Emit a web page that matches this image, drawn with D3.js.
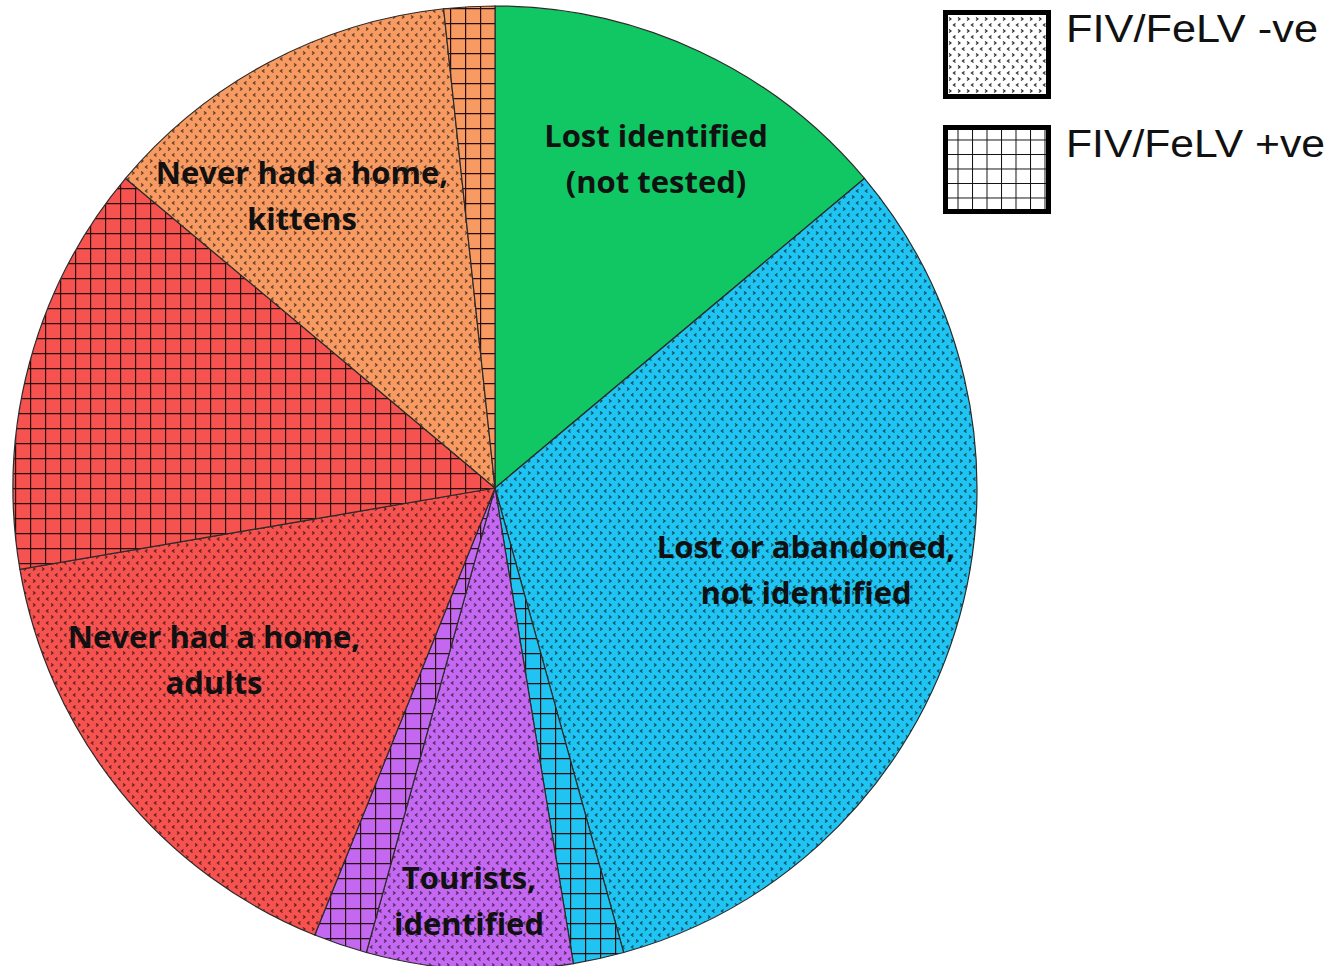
<!DOCTYPE html>
<html>
<head>
<meta charset="utf-8">
<script src="https://cdnjs.cloudflare.com/ajax/libs/d3/7.8.5/d3.min.js"></script>
<style>
  body { margin: 0; background: #fff; }
  svg { display: block; }
</style>
</head>
<body>
<div id="chart"></div>
<script>
// slices, clockwise from 12 o'clock (share of cats, %)
var groups = ["Lost identified", "Lost or abandoned", "Lost or abandoned", "Tourists", "Tourists",
              "Never had a home, adults", "Never had a home, adults", "Never had a home, kittens", "Never had a home, kittens"];
var testResult = ["none", "neg", "pos", "neg", "pos", "neg", "pos", "neg", "pos"];
var shares = [13.9, 31.8, 1.7, 6.9, 1.8, 16.2, 13.8, 12.2, 1.7];
var groupNames = ["Lost identified", "Lost or abandoned", "Tourists", "Never had a home, adults", "Never had a home, kittens"];
var groupColors = ["#10c763", "#1fc4f2", "#c468f2", "#f6524f", "#f89b62"];
var labelLines = [
  ["Lost identified", "(not tested)"],
  ["Lost or abandoned,", "not identified"],
  ["Tourists,", "identified"],
  ["Never had a home,", "adults"],
  ["Never had a home,", "kittens"]
];
var legendNames = ["FIV/FeLV -ve", "FIV/FeLV +ve"];

var width = 1343, height = 966;
var cx = 495, cy = 488, radius = 482;
// label anchors (first line baseline) in px
var labelPos = [[656, 147], [806, 558], [469, 889], [214, 648], [302, 184]];

var svg = d3.select("#chart").append("svg")
    .attr("width", width)
    .attr("height", height);

var defs = svg.append("defs");

var color = d3.scaleOrdinal().domain(groupNames).range(groupColors);

// "dotted" pattern: small < and > chevrons
function dotPattern(id, bg, ink) {
    var p = defs.append("pattern")
        .attr("id", id)
        .attr("patternUnits", "userSpaceOnUse")
        .attr("width", 9)
        .attr("height", 12);
    p.append("rect").attr("width", 9).attr("height", 12).attr("fill", bg);
    p.append("path")
        .attr("d", "M3.5,1.5 L1.5,3 L3.5,4.5 M6,7.5 L8,9 L6,10.5")
        .attr("fill", "none")
        .attr("stroke", ink)
        .attr("stroke-width", 1.3);
}

// grid pattern
function gridPattern(id, bg, ink, size, lw) {
    var p = defs.append("pattern")
        .attr("id", id)
        .attr("patternUnits", "userSpaceOnUse")
        .attr("width", size)
        .attr("height", size);
    p.append("rect").attr("width", size).attr("height", size).attr("fill", bg);
    p.append("path")
        .attr("d", "M0,0 L" + size + ",0 M0,0 L0," + size)
        .attr("fill", "none")
        .attr("stroke", ink)
        .attr("stroke-width", lw);
}

groupNames.forEach(function (g, i) {
    var c = color(g);
    var ink = d3.color(c).darker(2.6).formatHex();
    dotPattern("neg" + i, c, ink);
    gridPattern("pos" + i, c, "#2a0e0e", 15, 2.4);
});
dotPattern("negLegend", "#fff", "#333");
gridPattern("posLegend", "#fff", "#111", 14.5, 2);

var pie = d3.pie().sort(null).value(function (d) { return d; });
var arc = d3.arc().innerRadius(0).outerRadius(radius);

var slices = pie(shares);

var g = svg.append("g").attr("transform", "translate(" + cx + "," + cy + ")");

g.selectAll("path.slice")
    .data(slices)
    .enter().append("path")
    .attr("class", "slice")
    .attr("d", arc)
    .attr("fill", function (d, i) {
        var gi = groupNames.indexOf(groups[i]);
        if (testResult[i] === "none") return color(groups[i]);
        return "url(#" + testResult[i] + gi + ")";
    })
    .attr("stroke", "#2b2b2b")
    .attr("stroke-width", 1.2);

// slice labels
var labels = svg.append("g")
    .attr("font-family", "'Open Sans', Lato, sans-serif")
    .attr("font-weight", "bold")
    .attr("font-size", 31)
    .attr("fill", "#111")
    .attr("text-anchor", "middle");

labelLines.forEach(function (lines, i) {
    var t = labels.append("text")
        .attr("x", labelPos[i][0])
        .attr("y", labelPos[i][1]);
    lines.forEach(function (line, j) {
        t.append("tspan")
            .attr("x", labelPos[i][0])
            .attr("dy", j === 0 ? 0 : 46)
            .text(line);
    });
});

// legend
var legend = svg.append("g").attr("transform", "translate(943,10)");
legendNames.forEach(function (name, i) {
    var row = legend.append("g").attr("transform", "translate(0," + (i * 115) + ")");
    row.append("rect")
        .attr("x", 2.5)
        .attr("y", 2.5)
        .attr("width", 103)
        .attr("height", 84)
        .attr("fill", i === 0 ? "url(#negLegend)" : "url(#posLegend)")
        .attr("stroke", "#000")
        .attr("stroke-width", 5);
    row.append("text")
        .attr("x", 123)
        .attr("y", 32)
        .attr("font-family", "'Liberation Sans', Arial, sans-serif")
        .attr("font-size", 38)
        .attr("fill", "#111")
        .attr("textLength", i === 0 ? 252 : 259)
        .attr("lengthAdjust", "spacingAndGlyphs")
        .text(name);
});
</script>
</body>
</html>
